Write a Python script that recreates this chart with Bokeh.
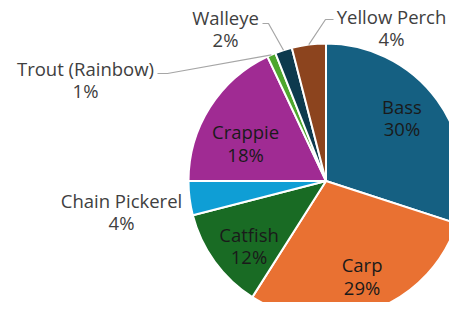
import math
from bokeh.plotting import figure
from bokeh.models import Range1d, ColumnDataSource
from bokeh.core.properties import value
from bokeh.embed import file_html
from bokeh.resources import INLINE

# ---- data ----
fish = ["Bass", "Carp", "Catfish", "Chain Pickerel", "Crappie",
        "Trout (Rainbow)", "Walleye", "Yellow Perch"]
percent = [30, 29, 12, 4, 18, 1, 2, 4]
colors = ["#156082", "#E97132", "#196B24", "#0F9ED5", "#A02B93",
          "#4EA72E", "#0D3A4E", "#8C441E"]

# ---- layout (image-pixel coordinates, y measured downward) ----
W, H = 449, 302
CX, CY, R = 325.5, 180.5, 137.5
FONT = "Open Sans"
FS = "18.5px"
LH = 0.91

# inside labels: placed at 0.71 R on the slice's mid angle, plus a small nudge
inside_nudge = {"Bass": (-3, -6), "Carp": (3, 3), "Catfish": (2, 7),
                "Crappie": (2, 14)}
# outside label block centre, and leader elbow points (None = no leader)
outside = {
    "Chain Pickerel": ((121, 211), None),
    "Trout (Rainbow)": ((85, 79), [(157, 73), (167, 73)]),
    "Walleye": ((225, 28), [(262, 23), (268, 23)]),
    "Yellow Perch": ((391, 27), [(333, 19), (325, 19)]),
}

def fy(y):
    return H - y

p = figure(width=W, height=H, output_backend="svg", toolbar_location=None,
           x_range=Range1d(0, W), y_range=Range1d(0, H),
           min_border=0)
p.axis.visible = False
p.grid.visible = False
p.outline_line_color = None
p.background_fill_color = "white"

total = sum(percent)
starts, ends, mids = [], [], []
cum = 0.0
for v in percent:
    a0 = cum / total
    cum += v
    a1 = cum / total
    starts.append(math.pi / 2 - 2 * math.pi * a0)
    ends.append(math.pi / 2 - 2 * math.pi * a1)
    mids.append(2 * math.pi * (a0 + a1) / 2)  # clockwise from top

src = ColumnDataSource(dict(fish=fish, start=starts, end=ends, color=colors))
p.wedge(x=CX, y=fy(CY), radius=R, start_angle="start", end_angle="end",
        direction="clock", fill_color="color", line_color="white",
        line_width=2, source=src)

ix, iy, it = [], [], []
ox, oy, ot = [], [], []
for name, v, m in zip(fish, percent, mids):
    label = f"{name}\n{v}%"
    if name in inside_nudge:
        rr = 0.71 * R
        dx, dy = inside_nudge[name]
        ix.append(CX + rr * math.sin(m) + dx)
        iy.append(fy(CY - rr * math.cos(m) + dy))
        it.append(label)
    else:
        (lx, ly), leader = outside[name]
        ox.append(lx)
        oy.append(fy(ly))
        ot.append(label)
        if leader:
            ex = CX + R * math.sin(m)
            ey = CY - R * math.cos(m)
            pts = leader + [(ex, ey)]
            p.line([q[0] for q in pts], [fy(q[1]) for q in pts],
                   line_color="#A6A6A6", line_width=1.2)

p.text(x=ix, y=iy, text=it, text_align="center", text_baseline="middle",
       text_font=value(FONT), text_font_size=FS, text_color="#1A1A1A",
       text_line_height=LH)
p.text(x=ox, y=oy, text=ot, text_align="center", text_baseline="middle",
       text_font=value(FONT), text_font_size=FS, text_color="#404040",
       text_line_height=LH)

open("out.html", "w").write(file_html(p, INLINE))
